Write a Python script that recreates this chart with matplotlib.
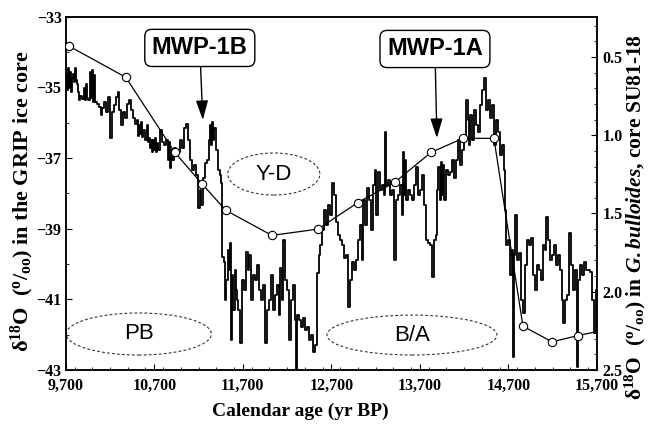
import matplotlib
matplotlib.use("Agg")
import matplotlib.pyplot as plt
from matplotlib.patches import Ellipse
from matplotlib.ticker import MultipleLocator, FuncFormatter

plt.rcParams['mathtext.fontset'] = 'custom'
plt.rcParams['mathtext.rm'] = 'Liberation Serif:bold'
plt.rcParams['mathtext.it'] = 'Liberation Serif:italic:bold'
plt.rcParams['mathtext.bf'] = 'Liberation Serif:bold'

# GRIP ice core d18O (permil), calendar age (yr BP)
grip_age = [
    9700, 9711, 9723, 9734, 9745, 9757, 9768, 9779, 9790, 9802, 9813, 9824, 9836, 9847, 9858, 9881,
    9903, 9915, 9926, 9937, 9949, 9971, 9983, 9994, 10005, 10016, 10028, 10050, 10073, 10096, 10107,
    10129, 10152, 10175, 10197, 10220, 10242, 10265, 10288, 10299, 10322, 10344, 10367, 10389, 10412,
    10435, 10457, 10480, 10502, 10514, 10525, 10536, 10548, 10559, 10570, 10593, 10615, 10627, 10638,
    10649, 10661, 10672, 10683, 10694, 10706, 10717, 10728, 10740, 10762, 10785, 10807, 10830, 10853,
    10864, 10875, 10887, 10898, 10920, 10943, 10966, 10988, 11011, 11033, 11056, 11079, 11101, 11124,
    11146, 11169, 11192, 11214, 11226, 11248, 11271, 11293, 11316, 11327, 11339, 11350, 11361, 11372,
    11395, 11418, 11440, 11452,
    11463, 11485, 11497, 11508, 11531, 11542, 11553, 11565, 11576, 11587, 11610, 11621, 11632, 11644,
    11666, 11689, 11711, 11734, 11757, 11768, 11791, 11813, 11836, 11858, 11881, 11904, 11926, 11949,
    11971, 11994, 12017, 12039, 12062, 12084, 12107, 12118, 12141, 12152, 12175, 12197, 12220, 12243,
    12265, 12288, 12299, 12310, 12333, 12356, 12378, 12401, 12423, 12446, 12469, 12491, 12514, 12536,
    12559, 12570, 12593, 12615, 12638, 12661, 12683,
    12706, 12728, 12751, 12774, 12796, 12819, 12841, 12864, 12887, 12909, 12932, 12954, 12977, 13000,
    13022, 13045, 13056, 13079, 13101, 13124, 13147, 13169, 13192, 13203, 13226, 13248, 13271, 13293,
    13305, 13316, 13339, 13361, 13384, 13406, 13429, 13452, 13474, 13497, 13508, 13519, 13531, 13542,
    13565, 13587, 13610, 13632, 13655, 13678, 13700, 13723, 13745, 13768, 13791, 13813, 13836, 13858,
    13881, 13892, 13904, 13926, 13937, 13949, 13960, 13971, 13994, 14017, 14039, 14062, 14084, 14107,
    14130, 14152, 14175, 14197, 14220, 14243, 14254, 14265, 14288, 14310, 14333, 14356, 14378, 14401,
    14423, 14446, 14469, 14491, 14514, 14536, 14559, 14582, 14604, 14627, 14649, 14661, 14672, 14695,
    14717, 14740,
    14751, 14762, 14774, 14796, 14819, 14842, 14864, 14887, 14909, 14932, 14955, 14977, 15000, 15022,
    15045, 15068, 15090, 15113, 15124, 15147, 15169, 15192, 15214, 15237, 15260, 15282, 15305, 15316,
    15339, 15361, 15384, 15407, 15429, 15452, 15474, 15486, 15508, 15531, 15554, 15576, 15599, 15621,
    15644, 15667, 15689,
]
grip_d18o = [
    -34.64, -35.07, -34.44, -35.01, -34.56, -35.12, -34.73, -34.61, -34.84, -34.44, -34.78, -34.90,
    -35.12, -35.35, -35.24, -35.32, -35.01, -35.35, -34.90, -35.29, -35.35, -34.56, -35.29, -34.50,
    -35.41, -34.64, -35.41, -35.46, -35.55, -35.78, -35.58, -35.41, -35.69, -35.27, -36.43, -35.69,
    -35.49, -35.27, -35.12, -35.63, -36.06, -35.69, -35.86, -35.46, -35.35, -35.63, -35.86, -36.03,
    -35.92, -36.37, -36.06, -36.31, -35.97, -36.40, -36.20, -36.48, -36.06, -36.54, -36.43, -36.71,
    -36.48, -36.82, -36.48, -36.77, -36.43, -36.82, -36.57, -36.77, -36.20, -36.54, -36.63, -36.48,
    -37.05, -36.54, -37.28, -36.77, -37.05, -36.71, -36.91, -36.82, -36.48, -36.71, -36.14, -36.03,
    -36.48, -37.05, -37.33, -37.19, -37.48, -38.41, -37.90, -38.33, -37.56, -37.14, -37.05, -36.48,
    -36.06, -36.63, -35.97, -36.48, -36.14, -36.77, -37.33, -37.48, -37.70,
    -39.80, -39.94, -41.02, -40.45, -39.60, -40.17, -39.40, -42.15, -40.31, -41.30, -40.17, -40.73,
    -41.02, -41.30, -42.24, -40.45, -40.73, -39.66, -40.17, -39.74, -41.02, -40.31, -40.45, -40.03,
    -40.73, -41.02, -40.59, -42.24, -41.30, -41.02, -40.31, -41.30, -40.88, -40.59, -41.44, -40.11,
    -41.02, -39.32, -40.45, -40.73, -42.15, -41.02, -40.59, -41.58, -43.00, -41.44, -41.58, -41.78,
    -41.53, -41.87, -41.78, -42.15, -42.01, -42.49, -42.29, -40.25, -39.74, -39.46, -39.03, -38.47,
    -38.89, -38.33, -38.61,
    -37.70, -38.04, -38.81, -39.18, -39.32, -39.46, -39.83, -39.74, -41.22, -40.45, -39.94, -40.17,
    -39.88, -39.32, -38.89, -39.88, -38.18, -38.89, -37.84, -38.18, -39.03, -37.76, -37.33, -38.61,
    -37.39, -37.90, -37.76, -38.04, -36.26, -37.76, -37.62, -38.04, -37.90, -39.88, -38.18, -38.04,
    -37.76, -38.61, -36.82, -38.04, -37.05, -38.18, -37.90, -38.04, -38.18, -37.76, -37.25, -38.04,
    -37.90, -37.48, -38.33, -39.32, -39.40, -39.46, -40.37, -39.32, -39.18, -37.90, -37.25, -38.18,
    -37.11, -38.04, -37.19, -38.18, -37.33, -37.48, -37.39, -37.05, -37.56, -37.05, -36.48, -37.19,
    -36.77, -36.48, -35.35, -35.92, -36.63, -35.78, -36.48, -35.63, -36.06, -36.26, -35.49, -35.07,
    -34.73, -35.63, -35.35, -35.86, -35.49, -36.63, -35.92, -36.26, -36.91, -36.63, -37.33, -38.47,
    -39.46, -39.32, -40.31, -39.60,
    -42.63, -39.74, -38.61, -39.88, -39.69, -41.02, -41.39, -40.03, -39.32, -39.46, -39.26, -40.31,
    -40.73, -40.03, -40.17, -40.45, -39.46, -39.60, -38.67, -39.32, -39.88, -39.74, -39.46, -40.03,
    -39.74, -40.17, -41.02, -41.67, -41.02, -40.88, -39.12, -40.03, -40.73, -40.17, -42.92, -40.45,
    -40.03, -40.31, -39.94, -40.17, -40.17, -40.22, -41.02, -41.95, -40.73,
]

# G. bulloides d18O (permil), core SU81-18
su_age = [9734, 10378, 10932, 11237, 11508, 12028, 12548, 13000, 13418, 13825, 14186, 14536,
          14864, 15192, 15486, 15655]
su_d18o = [0.43, 0.63, 1.11, 1.31, 1.48, 1.64, 1.60, 1.43, 1.30, 1.11, 1.02, 1.02,
           2.22, 2.32, 2.28, 2.26]

x_ticks = [9700, 10700, 11700, 12700, 13700, 14700, 15700]
x_ticklabels = ['9,700', '10,700', '11,700', '12,700', '13,700', '14,700', '15,700']
left_ticks = [-33, -35, -37, -39, -41, -43]
right_ticks = [0.5, 1.0, 1.5, 2.0, 2.5]

serif = 'Liberation Serif'
sans = 'Liberation Sans'

fig = plt.figure(figsize=(6.51, 4.32), dpi=100)
ax = fig.add_axes([0.101, 0.1435, 0.917 - 0.101, 0.961 - 0.1435])
ax2 = ax.twinx()

ax.plot(grip_age, grip_d18o, drawstyle='steps-post', color='black', lw=1.3, zorder=3)
ax2.plot(su_age, su_d18o, color='black', lw=0.9, marker='o', markersize=6,
         markerfacecolor='white', markeredgecolor='black', markeredgewidth=0.8,
         markevery=list(range(len(su_age) - 1)), zorder=4)

ax.set_xlim(9700, 15700)
ax.set_ylim(-43, -33)
ax2.set_ylim(2.5, 0.244)

ax.set_xticks(x_ticks)
ax.set_xticklabels(x_ticklabels)
ax.xaxis.set_minor_locator(MultipleLocator(200))
ax.set_yticks(left_ticks)
ax.yaxis.set_minor_locator(MultipleLocator(1))
ax2.set_yticks(right_ticks)
ax2.yaxis.set_major_formatter(FuncFormatter(lambda v, p: f'{v:.1f}'))
ax2.yaxis.set_minor_locator(MultipleLocator(0.1))

for a in (ax, ax2):
    a.tick_params(which='major', direction='in', length=4, width=0.8)
    a.tick_params(which='minor', direction='in', length=2.5, width=0.6)
    for s in a.spines.values():
        s.set_linewidth(1.1)
ax.tick_params(axis='y', which='both', right=False)
ax.tick_params(axis='x', which='both', top=False)

for lab in ax.get_xticklabels() + ax.get_yticklabels() + ax2.get_yticklabels():
    lab.set_fontfamily(serif)
    lab.set_fontweight('bold')
    lab.set_fontsize(11.5)
ax.tick_params(axis='x', pad=6)
ax.tick_params(axis='y', pad=3)
ax2.tick_params(axis='y', pad=4)

# axis titles
fig.text(0.034, 0.535, r'δ$^{18}$O  ($^{\mathrm{o}}$/$_{\mathrm{oo}}$) in the GRIP ice core',
         rotation=90, ha='center', va='center', family=serif, weight='bold', fontsize=16)
fig.text(0.976, 0.497, r'δ$^{18}$O  ($^{\mathrm{o}}$/$_{\mathrm{oo}}$) in $G. bulloides$, core SU81-18',
         rotation=90, ha='center', va='center', family=serif, weight='bold', fontsize=15.5)
fig.text(0.462, 0.048, 'Calendar age (yr BP)', ha='center', va='center',
         family=serif, weight='bold', fontsize=14)

# MWP annotations
box = dict(boxstyle='round,pad=0.3,rounding_size=0.3', fc='white', ec='black', lw=1.0)
arr = dict(arrowstyle='-|>,head_length=0.7,head_width=0.22', color='black', lw=1.0,
           shrinkA=0, shrinkB=0)
ax.annotate('MWP-1B', xy=(11248, -35.92), xytext=(11214, -33.88), ha='center', va='center',
            family=sans, weight='bold', fontsize=17, bbox=box, arrowprops=arr, zorder=6)
ax.annotate('MWP-1A', xy=(13892, -36.43), xytext=(13870, -33.91), ha='center', va='center',
            family=sans, weight='bold', fontsize=17, bbox=box, arrowprops=arr, zorder=6)

# dashed ellipses
ell_style = dict(fill=False, ec='#333333', lw=0.8, ls=(0, (2.5, 2)), zorder=2)
for cx, cy, w, h, lab in [(12050, -37.45, 1040, 1.19, 'Y-D'),
                          (10525, -41.98, 1640, 1.19, 'PB'),
                          (13610, -42.01, 1920, 1.13, 'B/A')]:
    ax.add_patch(Ellipse((cx, cy), w, h, **ell_style))
    ax.text(cx, cy, lab, ha='center', va='center', family=sans, fontsize=16, zorder=5)

fig.savefig('out.png', dpi=100)
